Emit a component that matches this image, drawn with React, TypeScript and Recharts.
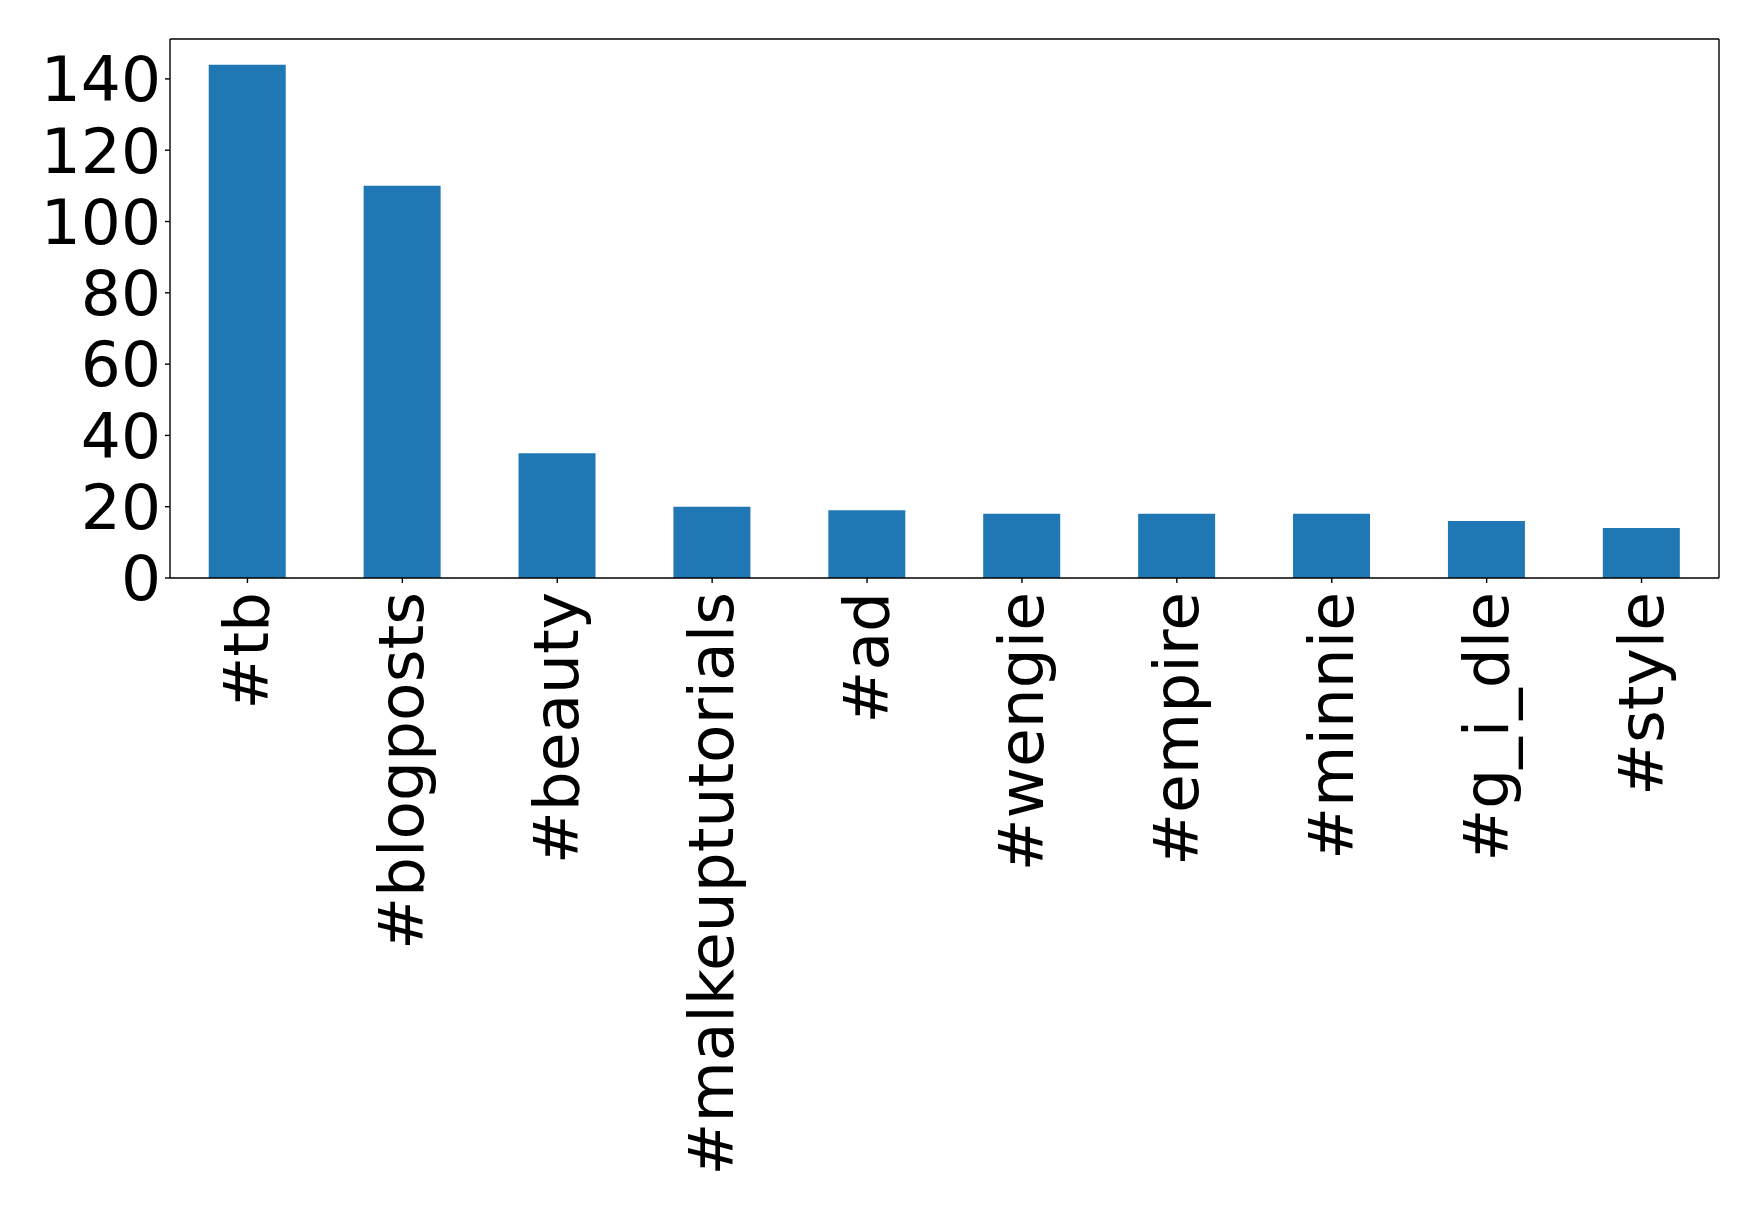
import { BarChart, Bar, XAxis, YAxis, ReferenceLine } from 'recharts';

const tags = [
  '#tb',
  '#blogposts',
  '#beauty',
  '#malkeuptutorials',
  '#ad',
  '#wengie',
  '#empire',
  '#minnie',
  '#g_i_dle',
  '#style',
];
const counts = [144, 110, 35, 20, 19, 18, 18, 18, 16, 14];
const yTicks = [0, 20, 40, 60, 80, 100, 120, 140];
const yMax = 151.2;

const data = tags.map((tag, i) => ({ tag, count: counts[i] }));

const FONT = '"DejaVu Sans", "Liberation Sans", sans-serif';
const BLUE = '#1f77b4';
const FONT_SIZE = 63;
const frameLine = { stroke: '#000', strokeWidth: 1.4 };

// vertical hashtag labels hanging below the axis, read bottom to top
function RotatedTick({ x, y, payload }: { x?: number; y?: number; payload?: { value: string } }) {
  return (
    <g transform={`translate(${(x ?? 0) + 21},${y ?? 0}) rotate(-90)`}>
      <text textAnchor="end" fill="#000" fontSize={FONT_SIZE} fontFamily={FONT}>
        {payload?.value}
      </text>
    </g>
  );
}

export default function App() {
  return (
    <div style={{ position: 'absolute', left: 0, top: 0, width: 1758, height: 1206, background: '#fff' }}>
      <BarChart
        width={1758}
        height={1206}
        data={data}
        margin={{ top: 39, right: 38, left: 10, bottom: 0 }}
        barCategoryGap="25%"
      >
        <XAxis
          dataKey="tag"
          height={628}
          interval={0}
          stroke="#000"
          tickSize={5}
          tickMargin={9}
          axisLine={frameLine}
          tickLine={frameLine}
          tick={<RotatedTick />}
        />
        <YAxis
          width={160}
          domain={[0, yMax]}
          ticks={yTicks}
          interval={0}
          stroke="#000"
          tickSize={5}
          tickMargin={4}
          axisLine={frameLine}
          tickLine={frameLine}
          tick={{ fill: '#000', fontSize: FONT_SIZE, fontFamily: FONT }}
        />
        {/* bare right spine of the frame */}
        <YAxis
          yAxisId="right"
          orientation="right"
          width={1}
          domain={[0, yMax]}
          stroke="#000"
          tick={false}
          tickLine={false}
          axisLine={frameLine}
        />
        <Bar dataKey="count" fill={BLUE} isAnimationActive={false} />
        {/* top spine */}
        <ReferenceLine y={yMax} {...frameLine} />
      </BarChart>
    </div>
  );
}
